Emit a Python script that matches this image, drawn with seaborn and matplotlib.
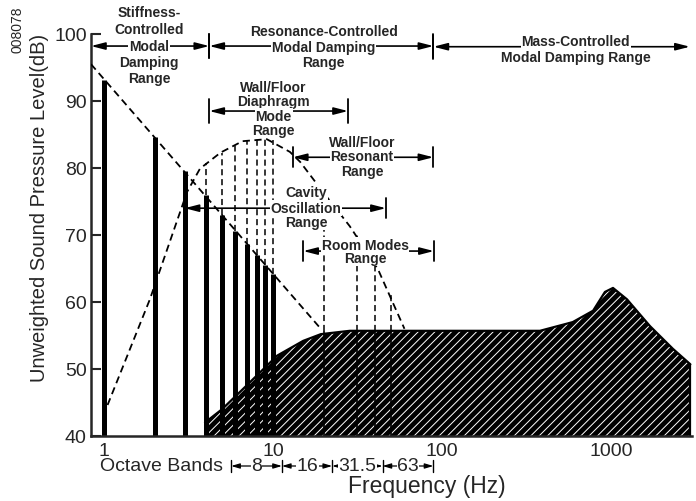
import matplotlib
matplotlib.use("Agg")
import matplotlib.pyplot as plt
import matplotlib.transforms as mtransforms
from matplotlib.ticker import NullLocator
import seaborn as sns

# ---- data ----
# discrete room modes below 10 Hz (solid bars)
mode_freq = [1, 2, 3, 4, 5, 6, 7, 8, 9, 10]
mode_level = [93.2, 84.6, 79.6, 76.0, 73.0, 70.6, 68.6, 67.0, 65.5, 64.2]
# dashed extension of modes 4..10 up to the diaphragm dome
upper_mode_freq = [4, 5, 6, 7, 8, 9, 10]
upper_mode_top = [80.7, 82.3, 83.4, 84.0, 84.3, 84.3, 84.2]
# dashed room modes above the plateau
room_freq = [20, 31.5, 40, 50]
room_top = [76.2, 70.3, 66.4, 61.0]
room_bottom = [55.7, 55.7, 55.7, 55.7]

# dashed stiffness envelope
stiff_freq = [0.838, 19.2]
stiff_level = [95.5, 56.0]

# dashed wall/floor diaphragm dome
dome_freq = [0.99, 1.87, 3.1, 3.36, 3.7, 4.9, 6.6, 9.2, 12.6, 14.5, 19.8, 28.5, 41.8, 60.0]
dome_level = [43.0, 60.4, 76.4, 78.0, 79.9, 82.3, 84.0, 84.3, 82.4, 80.9, 76.4, 71.3, 64.9, 56.0]

# hatched broadband region
fill_freq = [3.96, 5.0, 6.64, 10.6, 15.1, 19.2, 28.5, 100, 380, 594, 784, 921, 1028, 1244, 1702, 2328, 2950]
fill_level = [42.0, 44.0, 47.0, 52.0, 54.2, 55.2, 55.7, 55.7, 55.7, 57.0, 58.7, 61.5, 62.1, 60.4, 56.4, 53.0, 50.7]

# octave bands
band_labels = ["8", "16", "31.5", "63"]
band_centers = [8, 16, 31.5, 63]
band_edges = [5.66, 11.3, 22.4, 44.5, 89]

yticks = [40, 50, 60, 70, 80, 90, 100]
xticks = [1, 10, 100, 1000]
xtick_labels = ["1", "10", "100", "1000"]

sns.set_style("ticks")
plt.rcParams["font.family"] = ["Liberation Sans", "DejaVu Sans"]
plt.rcParams["hatch.linewidth"] = 0.7

fig = plt.figure(figsize=(6.96, 5.02), dpi=100)
ax = fig.add_axes([0.1307, 0.1295, 0.8635, 0.8008])
ax.set_xscale("log")
ax.set_xlim(0.838, 3015)
ax.set_ylim(40, 100)

dash = (0, (4, 2.5))

ax.fill_between(fill_freq, 40, fill_level, facecolor="black", edgecolor="white",
                hatch="////", linewidth=0, zorder=1)
ax.plot(fill_freq, fill_level, color="black", lw=1.6, zorder=1.2)
ax.vlines(fill_freq[-1], 40, fill_level[-1], colors="black", lw=1.6, zorder=1.2)
ax.vlines(room_freq, 40, room_bottom, colors="black", lw=1.2, zorder=1.5)

ax.vlines(mode_freq, 40, mode_level, colors="black", lw=3.6, zorder=2)
ax.vlines(upper_mode_freq, mode_level[3:], upper_mode_top, colors="black",
          lw=1.1, linestyles=dash, zorder=2)
ax.vlines(room_freq, room_bottom, room_top, colors="black", lw=1.1,
          linestyles=dash, zorder=2)

sns.lineplot(x=stiff_freq, y=stiff_level, ax=ax, color="black", lw=1.3,
             linestyle=dash, zorder=3)
sns.lineplot(x=dome_freq, y=dome_level, ax=ax, color="black", lw=1.3,
             linestyle=dash, zorder=3)

PX = 6.7  # pixels per dB


def span(f0, f1, y, lines, ys, fx, tick=12, ticks=(True, True)):
    ax.annotate("", xy=(f1, y), xytext=(f0, y), annotation_clip=False, zorder=4,
                arrowprops=dict(arrowstyle="<|-|>,head_length=0.7,head_width=0.18",
                                mutation_scale=12, color="black", lw=1.2,
                                shrinkA=0, shrinkB=0))
    d = tick / PX
    for f, on in zip((f0, f1), ticks):
        if on:
            ax.plot([f, f], [y - d, y + d], color="black", lw=1.3,
                    clip_on=False, zorder=4)
    for t, yy in zip(lines, ys):
        ax.text(fx, yy, t, ha="center", va="center", fontsize=10,
                fontweight="bold", clip_on=False, zorder=5,
                bbox=dict(fc="white", ec="none", pad=0.6))


span(0.838, 4.2, 98.2, ["Stiffness-", "Controlled", "Modal", "Damping", "Range"],
     [103.3, 100.7, 98.2, 95.8, 93.4], 1.85, ticks=(False, True))
span(4.2, 89, 98.2, ["Resonance-Controlled", "Modal Damping", "Range"],
     [100.4, 98.1, 95.8], 20)
span(89, 2930, 98.1, ["Mass-Controlled", "Modal Damping Range"],
     [99.0, 96.6], 620, ticks=(True, False))
span(4.2, 27.8, 88.5, ["Wall/Floor", "Diaphragm", "Mode", "Range"],
     [92.1, 90.0, 87.8, 85.7], 10.1)
span(13.1, 89, 81.6, ["Wall/Floor", "Resonant", "Range"],
     [83.9, 81.8, 79.6], 33.6, tick=10)
span(3.0, 46.6, 74.0, ["Cavity", "Oscillation", "Range"],
     [76.4, 74.0, 71.9], 15.7, tick=10)
span(15.1, 89.6, 67.6, ["Room Modes", "Range"],
     [68.5, 66.6], 35.1, tick=10)

# axes styling
ax.set_yticks(yticks)
ax.set_xticks(xticks)
ax.set_xticklabels(xtick_labels)
ax.xaxis.set_minor_locator(NullLocator())
ax.tick_params(axis="y", direction="in", length=7, width=1.5, labelsize=14, pad=3)
ax.tick_params(axis="x", length=0, labelsize=14, pad=4)
for s in ("top", "right"):
    ax.spines[s].set_visible(False)
for s in ("left", "bottom"):
    ax.spines[s].set_linewidth(1.8)
ax.set_xlabel("")
ax.set_ylabel("")

# octave band row below the axis
blend = mtransforms.blended_transform_factory(ax.transData, fig.transFigure)
yb = 1 - 467 / 502
for e in band_edges:
    ax.plot([e, e], [yb - 0.011, yb + 0.011], color="black", lw=1.0,
            transform=blend, clip_on=False)
for a, b in zip(band_edges[:-1], band_edges[1:]):
    ax.annotate("", xy=(b, yb), xytext=(a, yb), xycoords=blend, textcoords=blend,
                annotation_clip=False,
                arrowprops=dict(arrowstyle="<|-|>,head_length=0.5,head_width=0.15",
                                mutation_scale=10, color="black", lw=0.9,
                                shrinkA=0, shrinkB=0))
for t, c in zip(band_labels, band_centers):
    ax.text(c, yb, t, transform=blend, ha="center", va="center", fontsize=14,
            clip_on=False, bbox=dict(fc="white", ec="none", pad=0.3))
ax.text(0.95, yb, "Octave Bands", transform=blend, ha="left", va="center",
        fontsize=14, clip_on=False)

fig.text(427 / 696, 1 - 487 / 502, "Frequency (Hz)", ha="center", va="center",
         fontsize=16.5)
fig.text(40 / 696, 1 - 208 / 502, "Unweighted Sound Pressure Level(dB)",
         rotation=90, ha="center", va="center", fontsize=14.5)
fig.text(17 / 696, 1 - 30 / 502, "008078", rotation=90, ha="center",
         va="center", fontsize=10)

fig.savefig("out.png", dpi=100)
